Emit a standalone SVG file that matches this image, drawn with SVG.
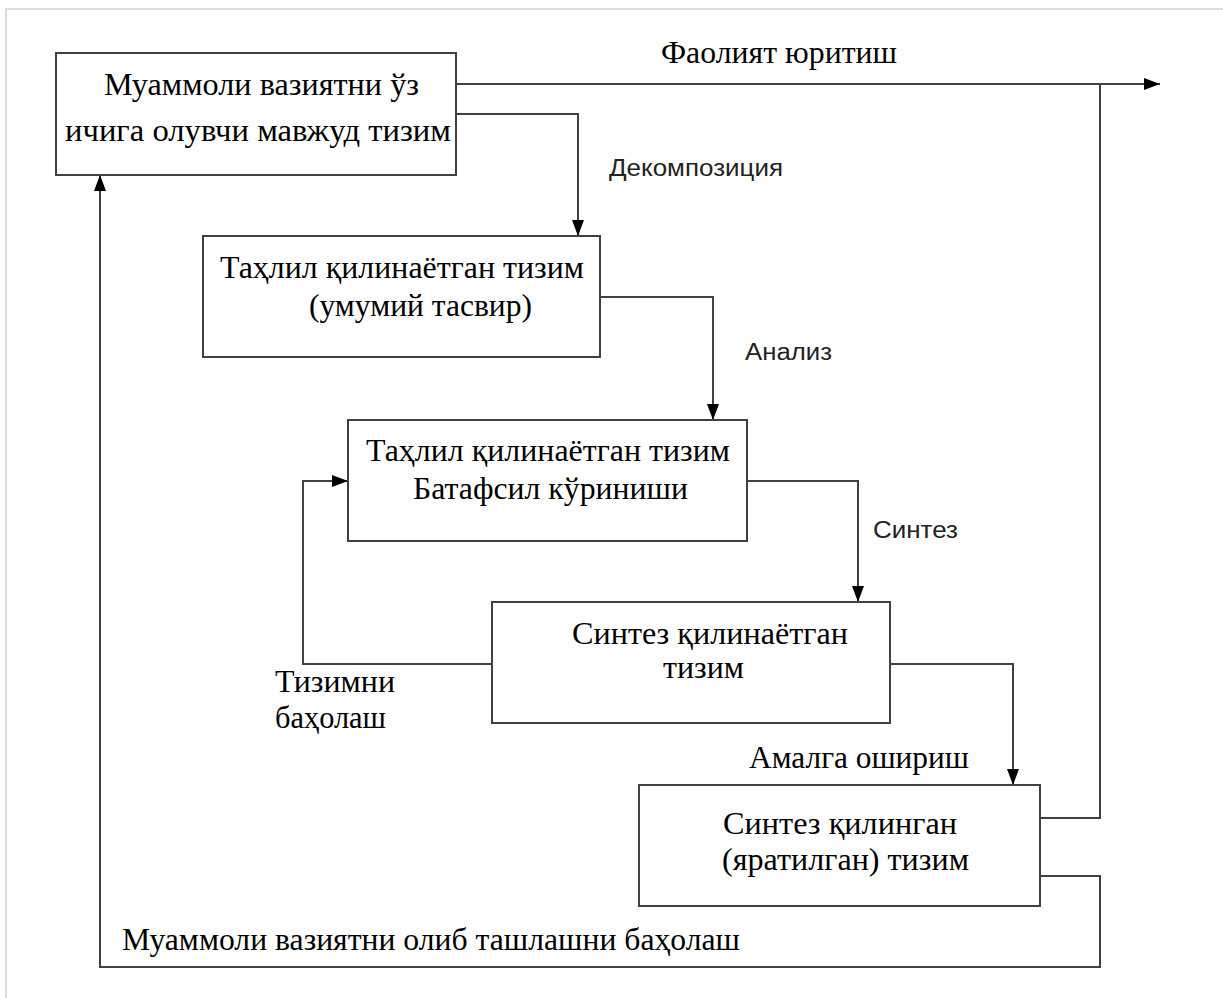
<svg xmlns="http://www.w3.org/2000/svg" width="1223" height="998" viewBox="0 0 1223 998">
<style>
.box{fill:#fff;stroke:#404040;stroke-width:2}
.ln{fill:none;stroke:#404040;stroke-width:2}
.t{font-family:"Liberation Serif","Times New Roman",serif;font-size:31px;fill:#000}
.s{font-family:"Liberation Sans",Arial,sans-serif;font-size:23px;fill:#222}
</style>
<defs>
<marker id="ah" markerWidth="16" markerHeight="12" refX="16" refY="6" orient="auto" markerUnits="userSpaceOnUse">
<path d="M0,0 L16,6 L0,12 Z" fill="#000"/>
</marker>
</defs>
<rect x="6" y="9" width="1300" height="1100" fill="none" stroke="#dddddd" stroke-width="2"/>
<g id="connectors">
<path class="ln" d="M456,84 L1160,84" marker-end="url(#ah)"/>
<path class="ln" d="M456,114 L578,114 L578,236" marker-end="url(#ah)"/>
<path class="ln" d="M600,297 L713,297 L713,420" marker-end="url(#ah)"/>
<path class="ln" d="M747,481 L858,481 L858,602" marker-end="url(#ah)"/>
<path class="ln" d="M492,664 L303,664 L303,481 L348,481" marker-end="url(#ah)"/>
<path class="ln" d="M890,664 L1013,664 L1013,785" marker-end="url(#ah)"/>
<path class="ln" d="M1040,818 L1100,818 L1100,84"/>
<path class="ln" d="M1040,876 L1100,876 L1100,967 L100,967 L100,175" marker-end="url(#ah)"/>
<text class="t" x="661" y="63" textLength="236" lengthAdjust="spacingAndGlyphs">Фаолият юритиш</text>
<text class="s" x="609" y="176" textLength="174" lengthAdjust="spacingAndGlyphs">Декомпозиция</text>
<text class="s" x="745" y="360" textLength="87" lengthAdjust="spacingAndGlyphs">Анализ</text>
<text class="s" x="873" y="538" textLength="85" lengthAdjust="spacingAndGlyphs">Синтез</text>
<text class="t" x="275" y="692" textLength="120" lengthAdjust="spacingAndGlyphs">Тизимни</text>
<text class="t" x="275" y="728" textLength="111" lengthAdjust="spacingAndGlyphs">баҳолаш</text>
<text class="t" x="749" y="768" textLength="220" lengthAdjust="spacingAndGlyphs">Амалга ошириш</text>
<text class="t" x="122" y="950" textLength="618" lengthAdjust="spacingAndGlyphs">Муаммоли вазиятни олиб ташлашни баҳолаш</text>
</g>
<g id="n1">
<rect class="box" x="56" y="53" width="400" height="122"/>
<text class="t" x="104" y="95" textLength="315" lengthAdjust="spacingAndGlyphs">Муаммоли вазиятни ўз</text>
<text class="t" x="65" y="141" textLength="386" lengthAdjust="spacingAndGlyphs">ичига олувчи мавжуд тизим</text>
</g>
<g id="n2">
<rect class="box" x="203" y="236" width="397" height="121"/>
<text class="t" x="220" y="278" textLength="364" lengthAdjust="spacingAndGlyphs">Таҳлил қилинаётган тизим</text>
<text class="t" x="309" y="316" textLength="223" lengthAdjust="spacingAndGlyphs">(умумий тасвир)</text>
</g>
<g id="n3">
<rect class="box" x="348" y="420" width="399" height="121"/>
<text class="t" x="366" y="461" textLength="364" lengthAdjust="spacingAndGlyphs">Таҳлил қилинаётган тизим</text>
<text class="t" x="413" y="499" textLength="275" lengthAdjust="spacingAndGlyphs">Батафсил кўриниши</text>
</g>
<g id="n4">
<rect class="box" x="492" y="602" width="398" height="121"/>
<text class="t" x="572" y="644" textLength="276" lengthAdjust="spacingAndGlyphs">Синтез қилинаётган</text>
<text class="t" x="663" y="678" textLength="81" lengthAdjust="spacingAndGlyphs">тизим</text>
</g>
<g id="n5">
<rect class="box" x="639" y="785" width="401" height="121"/>
<text class="t" x="723" y="834" textLength="234" lengthAdjust="spacingAndGlyphs">Синтез қилинган</text>
<text class="t" x="722" y="870" textLength="247" lengthAdjust="spacingAndGlyphs">(яратилган) тизим</text>
</g>
</svg>
